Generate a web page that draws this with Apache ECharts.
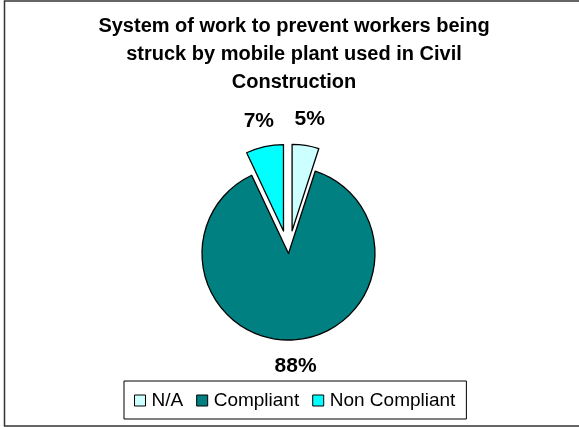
<!DOCTYPE html>
<html>
<head>
<meta charset="utf-8">
<script src="https://cdn.jsdelivr.net/npm/echarts@6/dist/echarts.min.js"></script>
<style>
html,body{margin:0;padding:0;background:#fff;}
#chart{width:579px;height:427px;}
</style>
</head>
<body>
<div id="chart"></div>
<script>
const titleText = 'System of work to prevent workers being\nstruck by mobile plant used in Civil\nConstruction';
const categories = ['N/A', 'Compliant', 'Non Compliant'];
const values = [5, 88, 7];
const exploded = [true, false, true];
const colors = ['#CCFFFF', '#008080', '#00FFFF'];

const font = 'Liberation Sans, Arial, sans-serif';
const chart = echarts.init(document.getElementById('chart'), null, {renderer: 'canvas'});

const center = [288.5, 253.5];
const mainData = categories.map((c, i) => ({
  name: c, value: values[i], selected: exploded[i],
  itemStyle: {color: colors[i]}
}));
const labelData = categories.map((c, i) => ({
  name: c, value: values[i], selected: exploded[i]
}));

chart.setOption({
  animation: false,
  backgroundColor: '#fff',
  title: {
    text: titleText,
    left: 289,
    top: 7,
    textAlign: 'center',
    textStyle: {fontFamily: font, fontSize: 20, fontWeight: 'bold', color: '#000', lineHeight: 28}
  },
  legend: {
    data: categories,
    left: 124,
    top: 381,
    orient: 'horizontal',
    icon: 'rect',
    itemWidth: 11,
    itemHeight: 11,
    itemGap: 13,
    padding: [10, 11, 9, 10],
    borderColor: '#000',
    borderWidth: 1,
    selectedMode: false,
    itemStyle: {borderColor: '#000', borderWidth: 1},
    textStyle: {fontFamily: font, fontSize: 19, color: '#000', padding: [0, 0, 0, 1]}
  },
  graphic: [{
    type: 'rect',
    shape: {x: 4.5, y: 1, width: 580, height: 425},
    style: {fill: 'none', stroke: '#333', lineWidth: 1.5},
    silent: true
  }],
  series: [{
    type: 'pie',
    name: 'main',
    center: center,
    radius: 86.5,
    startAngle: 90,
    clockwise: true,
    selectedMode: 'multiple',
    selectedOffset: 23,
    avoidLabelOverlap: false,
    label: {show: false},
    labelLine: {show: false},
    itemStyle: {borderColor: '#000', borderWidth: 1.3},
    emphasis: {disabled: true},
    data: mainData
  }, {
    type: 'pie',
    name: 'labels',
    center: center,
    radius: [99, 121],
    startAngle: 90,
    clockwise: true,
    selectedMode: 'multiple',
    selectedOffset: 23,
    silent: true,
    avoidLabelOverlap: false,
    itemStyle: {color: 'rgba(0,0,0,0)', borderWidth: 0},
    emphasis: {disabled: true},
    label: {
      show: true,
      position: 'inside',
      formatter: '{d}%',
      fontFamily: font,
      fontSize: 21,
      fontWeight: 'bold',
      color: '#000'
    },
    labelLine: {show: false},
    data: labelData
  }]
});
</script>
</body>
</html>
